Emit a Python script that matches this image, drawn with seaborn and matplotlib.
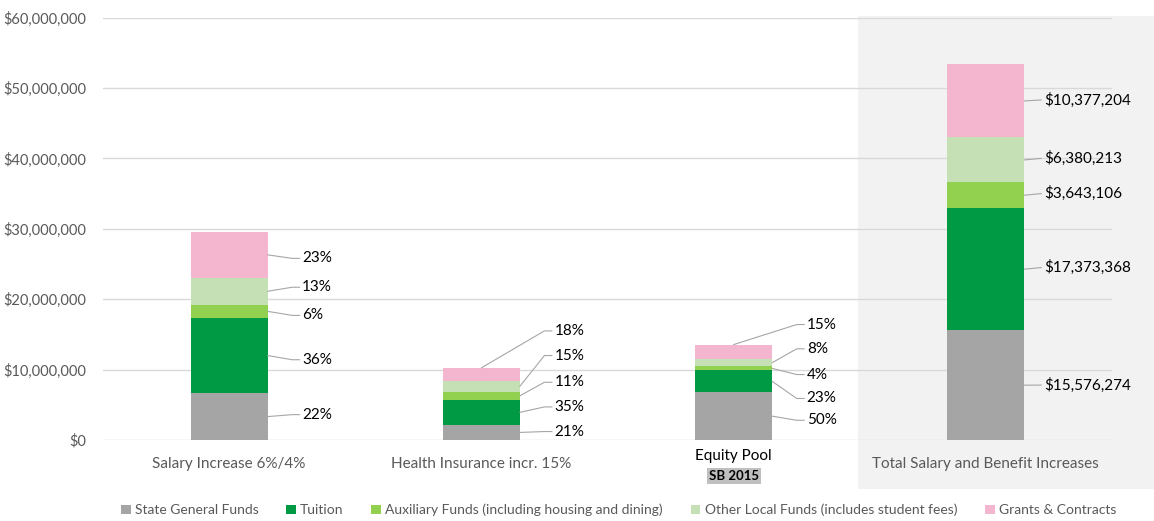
import numpy as np
import pandas as pd
import matplotlib
matplotlib.use('Agg')
import matplotlib.pyplot as plt
from matplotlib.patches import Rectangle
import seaborn as sns

# data (dollars)
categories = ['Salary Increase 6%/4%', 'Health Insurance incr. 15%', 'Equity Pool', 'Total Salary and Benefit Increases']
state = [6650000, 2150000, 6780000, 15576274]
tuition = [10700000, 3550000, 3120000, 17373368]
auxiliary = [1850000, 1150000, 550000, 3643106]
other_local = [3850000, 1550000, 1050000, 6380213]
grants = [6500000, 1850000, 2050000, 10377204]
series_names = ['State General Funds', 'Tuition', 'Auxiliary Funds (including housing and dining)',
                'Other Local Funds (includes student fees)', 'Grants & Contracts']
pct_labels = [['22%', '36%', '6%', '13%', '23%'],
              ['21%', '35%', '11%', '15%', '18%'],
              ['50%', '23%', '4%', '8%', '15%']]
total_labels = ['$15,576,274', '$17,373,368', '$3,643,106', '$6,380,213', '$10,377,204']

colors = ['#A5A5A5', '#009A44', '#92D050', '#C5E0B4', '#F4B6CE']

sns.set_style('white')
plt.rcParams['font.family'] = ['Lato', 'DejaVu Sans']

fig = plt.figure(figsize=(11.54, 5.21), dpi=100)
# shaded panel behind the total bar
fig.patches.append(Rectangle((858 / 1154, 1 - 489 / 521), 296 / 1154, (489 - 16) / 521,
                             transform=fig.transFigure, facecolor='#F2F2F2', edgecolor='none', zorder=-5))
ax = fig.add_axes([103 / 1154, 1 - 440 / 521, 1009 / 1154, (440 - 17.6) / 521])
ax.patch.set_alpha(0)

stack = np.array([state, tuition, auxiliary, other_local, grants], dtype=float)
cum = stack.cumsum(axis=0)
# draw cumulative totals from the top down so they overlap as a stack
for i in range(4, -1, -1):
    df = pd.DataFrame({'cat': categories, 'val': cum[i]})
    sns.barplot(data=df, x='cat', y='val', color=colors[i], width=0.305, saturation=1,
                linewidth=0, ax=ax, zorder=3, label=series_names[i])
handles, labels = ax.get_legend_handles_labels()
if ax.get_legend() is not None:
    ax.get_legend().remove()

ax.set_ylim(0, 60000000)
ax.set_xlim(-0.5, 3.5)
ax.set_yticks(np.arange(0, 60000001, 10000000))
ax.set_yticklabels(['$0'] + [f'${v:,.0f}' for v in np.arange(10000000, 60000001, 10000000)],
                   color='#595959', fontsize=10.5)
ax.yaxis.grid(True, color='#D9D9D9', linewidth=1)
ax.set_axisbelow(True)
for s in ax.spines.values():
    s.set_visible(False)
ax.tick_params(axis='both', length=0)
ax.tick_params(axis='y', pad=12)
ax.set_xlabel('')
ax.set_ylabel('')
ax.set_xticks([0, 1, 2, 3])
ax.set_xticklabels(['Salary Increase 6%/4%', 'Health Insurance incr. 15%', '', 'Total Salary and Benefit Increases'],
                   color='#595959', fontsize=11)
ax.tick_params(axis='x', pad=12)
ax.text(2, -2300000, 'Equity Pool', ha='center', va='center', fontsize=11, color='#000000')
ax.text(2, -5050000, 'SB 2015', ha='center', va='center', fontsize=9.5, fontweight='bold', color='#000000',
        bbox=dict(boxstyle='square,pad=0.15', facecolor='#BFBFBF', edgecolor='none'))

# percentage labels with leader lines
half = 0.305 / 2
label_y = [[3.6, 11.4, 17.7, 21.7, 25.8],
           [1.2, 4.7, 8.2, 12.0, 15.5],
           [2.8, 5.9, 9.3, 12.95, 16.4]]
line_start = [[None, None, None, None, None],
              [None, None, None, None, 'top'],
              [None, None, None, None, 'top']]
for c in range(3):
    bottoms = np.concatenate([[0], cum[:, c]])
    for i in range(5):
        mid = (bottoms[i] + bottoms[i + 1]) / 2
        ty = label_y[c][i] * 1e6
        tx = c + 0.29
        if line_start[c][i] == 'top':
            x0, y0 = c, bottoms[i + 1]
        else:
            x0, y0 = c + half, mid
        ax.plot([x0, tx - 0.04, tx - 0.01], [y0, ty, ty], color='#A6A6A6', lw=0.8, zorder=4, clip_on=False)
        ax.text(tx, ty, pct_labels[c][i], ha='left', va='center', fontsize=11, color='#000000')

# dollar labels on the total bar
tot_y = [7.8, 24.5, 35, 40, 48.3]
bottoms = np.concatenate([[0], cum[:, 3]])
for i in range(5):
    mid = (bottoms[i] + bottoms[i + 1]) / 2
    ty = tot_y[i] * 1e6
    x_text = 3 + 0.23
    ax.plot([3 + half, x_text - 0.01], [mid, ty], color='#A6A6A6', lw=0.8, zorder=4)
    ax.text(x_text, ty, total_labels[i], ha='left', va='center', fontsize=11, color='#000000')

order = [labels.index(n) for n in series_names]
fig.legend([handles[k] for k in order], series_names, loc='center', bbox_to_anchor=(0.536, 1 - 510 / 521),
           ncol=5, frameon=False, fontsize=10, handlelength=0.7, handleheight=0.7, handletextpad=0.3,
           columnspacing=2.0, labelcolor='#595959')

fig.savefig('out.png', dpi=100)
